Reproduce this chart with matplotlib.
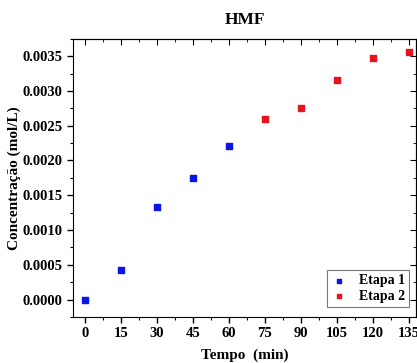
import numpy as np
import matplotlib.pyplot as plt
from matplotlib.ticker import MultipleLocator

plt.rcParams['font.family'] = ['Liberation Serif', 'DejaVu Serif']
plt.rcParams['font.weight'] = 'bold'

# Etapa 1 / Etapa 2 data
t1 = [0, 15, 30, 45, 60]
c1 = [0.0, 0.00043, 0.00133, 0.00175, 0.00221]
t2 = [75, 90, 105, 120, 135]
c2 = [0.00259, 0.00276, 0.00316, 0.00348, 0.00356]
xticks = [0, 15, 30, 45, 60, 75, 90, 105, 120, 135]

fig = plt.figure(figsize=(4.17, 3.63), dpi=100)
ax = fig.add_axes([0.175, 0.127, 0.823, 0.766])

ax.scatter(t1, c1, marker='s', s=24, color='#0a14e6', label='Etapa 1', zorder=3)
ax.scatter(t2, c2, marker='s', s=24, color='#e6141e', label='Etapa 2', zorder=3)

ax.set_xlim(-5, 138)
ax.set_ylim(-0.00025, 0.00375)
ax.set_xticks(xticks)
ax.xaxis.set_minor_locator(MultipleLocator(7.5))
ax.yaxis.set_major_locator(MultipleLocator(0.0005))
ax.yaxis.set_minor_locator(MultipleLocator(0.00025))
ax.yaxis.set_major_formatter(plt.FormatStrFormatter('%.4f'))
ax.tick_params(which='major', direction='out', length=4, width=1, labelsize=10.5)
ax.tick_params(which='minor', direction='out', length=2.5, width=0.8)
for lab in ax.get_xticklabels() + ax.get_yticklabels():
    lab.set_fontweight('bold')

# mirrored ticks pointing inward on top and right
top = ax.secondary_xaxis('top')
top.set_xticks(xticks)
top.xaxis.set_minor_locator(MultipleLocator(7.5))
top.tick_params(which='major', direction='in', length=4, labeltop=False)
top.tick_params(which='minor', direction='in', length=2.5)
right = ax.secondary_yaxis('right')
right.yaxis.set_major_locator(MultipleLocator(0.0005))
right.yaxis.set_minor_locator(MultipleLocator(0.00025))
right.tick_params(which='major', direction='in', length=4, labelright=False)
right.tick_params(which='minor', direction='in', length=2.5)

ax.set_title('HMF', fontsize=12.5, fontweight='bold', pad=11)
ax.set_xlabel('Tempo  (min)', fontsize=11, fontweight='bold', labelpad=6)
ax.set_ylabel('Concentração (mol/L)', fontsize=11, fontweight='bold', labelpad=1)

leg = ax.legend(loc='lower right', fontsize=10, frameon=True, fancybox=False,
                edgecolor='#555555', handletextpad=0.8, borderpad=0.3,
                labelspacing=0.2, handlelength=1.2, markerscale=0.7,
                bbox_to_anchor=(1.0, 0.01))
leg.get_frame().set_linewidth(0.8)

fig.savefig('out.png', dpi=100)
